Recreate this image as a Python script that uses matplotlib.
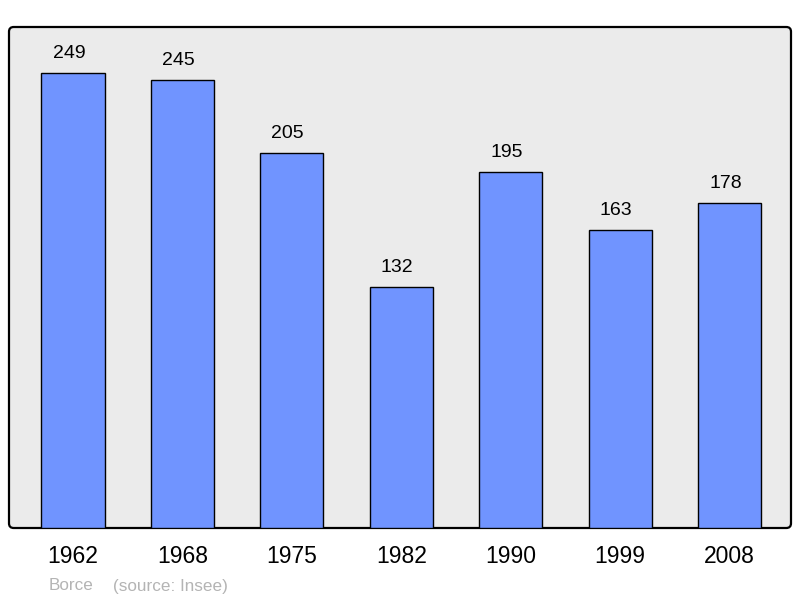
import matplotlib
matplotlib.use("Agg")
import matplotlib.pyplot as plt
from matplotlib.patches import FancyBboxPatch

plt.rcParams['font.family'] = ['Liberation Sans', 'DejaVu Sans']

years = ["1962", "1968", "1975", "1982", "1990", "1999", "2008"]
population = [249, 245, 205, 132, 195, 163, 178]
commune = "Borce"
source = "(source: Insee)"

fig = plt.figure(figsize=(8.0, 5.98), dpi=100)
ax = fig.add_axes([9/800, 70/598, 782/800, 501/598])
ax.patch.set_visible(False)
for s in ax.spines.values():
    s.set_visible(False)

frame = FancyBboxPatch((0, 0), 1, 1, boxstyle="round,pad=0,rounding_size=0.006",
                       mutation_aspect=782/501, transform=ax.transAxes,
                       facecolor="#ebebeb", edgecolor="black", linewidth=1.6,
                       zorder=0, clip_on=False)
ax.add_patch(frame)

x = list(range(len(years)))
bars = ax.bar(x, population, width=0.576, color="#7094ff", edgecolor="black",
              linewidth=1.0, zorder=2)
for xi, v in zip(x, population):
    ax.annotate(str(v), (xi, v), xytext=(-3, 10.8), textcoords="offset points",
                ha="center", va="baseline", fontsize=14, color="black")

ax.set_xlim(-0.585, 6.562)
ax.set_ylim(0, 274.2)
ax.set_yticks([])
ax.set_xticks(x)
ax.set_xticklabels(years, fontsize=16.5)
ax.tick_params(axis="x", length=0, pad=12)

fig.text(49/800, 1 - 590.5/598, commune, fontsize=12.3, color="#b4b4b4", va="baseline")
fig.text(113/800, 1 - 590.5/598, source, fontsize=12.3, color="#b4b4b4", va="baseline")

fig.savefig("out.png", dpi=100)
